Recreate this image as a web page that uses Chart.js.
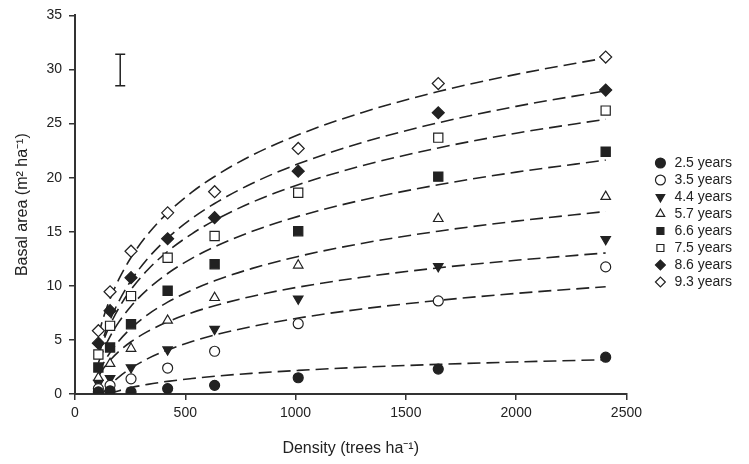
<!DOCTYPE html>
<html>
<head>
<meta charset="utf-8">
<script src="https://cdn.jsdelivr.net/npm/chart.js@4.4.1/dist/chart.umd.min.js"></script>
<style>
html,body{margin:0;padding:0;background:#fff}
</style>
</head>
<body>
<canvas id="grafik" width="749" height="464"></canvas>
<script>
// tree density of the plots (trees ha-1)
let density=[106,159,254,420,633,1012,1647,2406]

// measured basal area per age
let ages=["2.5 years","3.5 years","4.4 years","5.7 years","6.6 years","7.5 years","8.6 years","9.3 years"]
let ba25=[0.2,0.3,0.2,0.5,0.8,1.5,2.3,3.4]
let ba35=[0.5,0.8,1.4,2.4,3.95,6.5,8.6,11.75]
let ba44=[1.0,1.45,2.45,4.1,6.0,8.8,11.8,14.3]
let ba57=[1.5,2.8,4.2,6.8,8.9,11.9,16.2,18.25]
let ba66=[2.45,4.3,6.45,9.55,12.0,15.05,20.1,22.4]
let ba75=[3.65,6.3,9.05,12.6,14.6,18.6,23.7,26.2]
let ba86=[4.7,7.7,10.75,14.35,16.3,20.6,26.0,28.1]
let ba93=[5.85,9.45,13.2,16.75,18.7,22.7,28.7,31.15]

// fitted curves (dashed)
let fitX=[106,130,160,200,254,330,420,530,633,800,1012,1300,1647,2000,2406]
let fitX35=[124,130,160,200,254,330,420,530,633,800,1012,1300,1647,2000,2406]
let fitX25=[152,160,200,254,330,420,530,633,800,1012,1300,1647,2000,2406]
let fit25=[0,0.06,0.31,0.59,0.89,1.17,1.43,1.64,1.91,2.18,2.47,2.74,2.96,3.17]
let fit35=[0,0.15,0.84,1.59,2.39,3.27,4.07,4.85,5.45,6.23,7.02,7.86,8.65,9.30,9.92]
let fit44=[1.64,2.39,3.14,3.96,4.83,5.79,6.67,7.52,8.16,9.02,9.88,10.79,11.66,12.36,13.04]
let fit57=[1.88,2.87,3.86,4.93,6.08,7.34,8.49,9.61,10.46,11.59,12.72,13.92,15.05,15.98,16.87]
let fit66=[2.88,4.11,5.35,6.69,8.12,9.69,11.14,12.54,13.60,15.01,16.42,17.92,19.34,20.51,21.62]
let fit75=[3.54,4.98,6.43,7.99,9.66,11.49,13.18,14.81,16.05,17.70,19.34,21.09,22.75,24.11,25.40]
let fit86=[3.67,5.27,6.89,8.62,10.49,12.53,14.41,16.23,17.61,19.44,21.28,23.23,25.07,26.59,28.03]
let fit93=[5.46,7.14,8.84,10.66,12.62,14.77,16.75,18.66,20.11,22.04,23.96,26.01,27.96,29.55,31.07]

// error bar (LSD) top left
let errX=[205,205]
let errY=[28.5,31.4]

let xTicks=[0,500,1000,1500,2000,2500]
let yTicks=[0,5,10,15,20,25,30,35]

let hitam="#222"

function pasang(xs,ys){
return xs.map((x,i)=>({x:x,y:ys[i]}))
}

function garisFit(xs,ys){
return {
type:"line",
data:pasang(xs,ys),
borderColor:hitam,
borderWidth:1.6,
borderDash:[13,6],
pointRadius:0,
fill:false,
cubicInterpolationMode:"monotone",
isFit:true,
order:2
}
}

function titik(label,ys,style,isi,r,rot){
return {
type:"scatter",
label:label,
data:pasang(density,ys),
pointStyle:style,
pointRotation:rot||0,
pointRadius:r,
pointBackgroundColor:isi?hitam:"#fff",
pointBorderColor:hitam,
pointBorderWidth:1.2,
showLine:false,
order:1
}
}

let datasets=[
garisFit(fitX25,fit25),
garisFit(fitX35,fit35),
garisFit(fitX,fit44),
garisFit(fitX,fit57),
garisFit(fitX,fit66),
garisFit(fitX,fit75),
garisFit(fitX,fit86),
garisFit(fitX,fit93),
titik(ages[0],ba25,"circle",true,5),
titik(ages[1],ba35,"circle",false,5),
titik(ages[2],ba44,"triangle",true,5.5,180),
titik(ages[3],ba57,"triangle",false,5.5),
titik(ages[4],ba66,"rect",true,6.5),
titik(ages[5],ba75,"rect",false,6.5),
titik(ages[6],ba86,"rectRot",true,6),
titik(ages[7],ba93,"rectRot",false,6),
{
type:"line",
data:pasang(errX,errY),
borderColor:hitam,
borderWidth:1.5,
pointStyle:"line",
pointRadius:5,
pointBorderColor:hitam,
pointBorderWidth:1.5,
isFit:true,
order:0
}
]

// move the legend a bit away from the plot
let geserLegend={
id:"geserLegend",
afterLayout(chart){
let lg=chart.legend
let w=lg.right-lg.left
lg.left=chart.chartArea.right+24
lg.right=lg.left+w
lg.top=153
}
}

let fontDasar={family:"'Liberation Sans', Arial, sans-serif",size:14}

new Chart(document.getElementById("grafik"),{
type:"scatter",
data:{datasets:datasets},
plugins:[geserLegend],
options:{
responsive:false,
animation:false,
devicePixelRatio:1,
layout:{padding:{left:0,right:31,top:6,bottom:0}},
plugins:{
tooltip:{enabled:false},
legend:{
position:"right",
align:"start",
labels:{
usePointStyle:true,
boxWidth:14,
boxHeight:7,
padding:3,
color:hitam,
font:{family:fontDasar.family,size:14},
filter:(item,data)=>!data.datasets[item.datasetIndex].isFit
}
}
},
scales:{
x:{
type:"linear",
min:0,
max:2500,
afterBuildTicks(scale){scale.ticks=xTicks.map(v=>({value:v}))},
afterFit(scale){scale.height=70},
grid:{display:true,drawOnChartArea:false,drawTicks:true,tickLength:6,color:"#333",lineWidth:1.5},
border:{display:true,color:"#333",width:2},
ticks:{color:hitam,font:fontDasar,padding:5,callback:v=>String(v)},
title:{display:true,text:"Density (trees ha\u207B\u00B9)",color:hitam,font:{family:fontDasar.family,size:16},padding:{top:0,bottom:6}}
},
y:{
type:"linear",
min:0,
max:35,
afterBuildTicks(scale){scale.ticks=yTicks.map(v=>({value:v}))},
afterFit(scale){scale.width=75},
grid:{display:true,drawOnChartArea:false,drawTicks:true,tickLength:6,color:"#333",lineWidth:1.5},
border:{display:true,color:"#333",width:2},
ticks:{color:hitam,font:fontDasar,padding:7,callback:v=>String(v)},
title:{display:true,text:"Basal area (m\u00B2 ha\u207B\u00B9)",color:hitam,font:{family:fontDasar.family,size:16},padding:{top:13,bottom:0}}
}
}
}
})
</script>
</body>
</html>
